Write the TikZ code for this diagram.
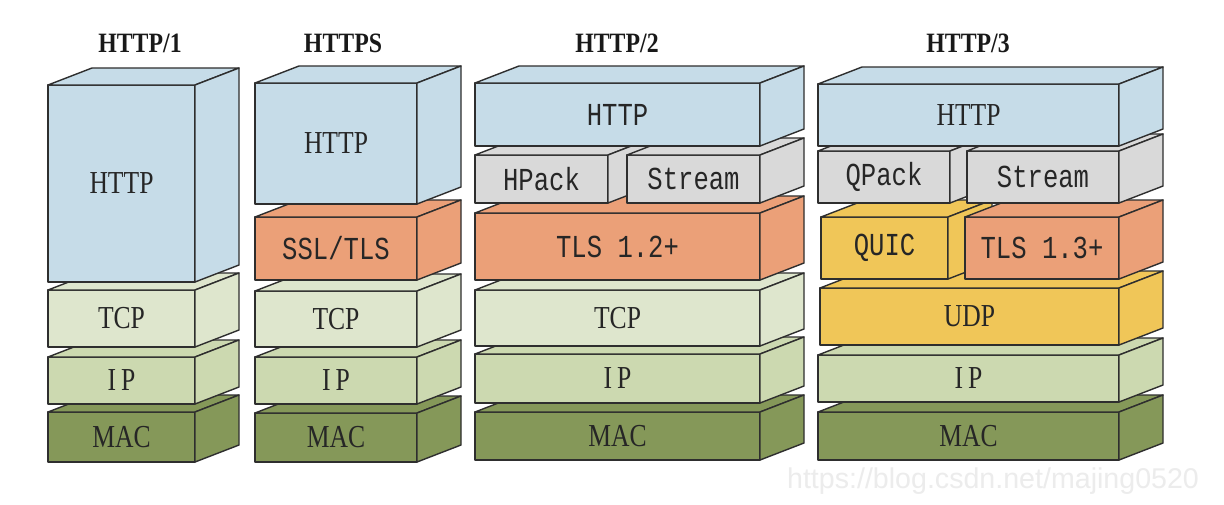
\documentclass[tikz,border=0pt]{standalone}
\usepackage{fontspec}
\setmainfont{Liberation Serif}
\newfontfamily\labfont[FakeStretch=0.8]{Liberation Serif}
\newfontfamily\mfont[FakeStretch=0.8]{Liberation Mono}
\newfontfamily\titfont[FakeStretch=0.85]{Liberation Serif}
\newfontfamily\wmfont{Liberation Sans}
\definecolor{cHttp}{HTML}{C6DCE8}
\definecolor{cTcp}{HTML}{DEE6CD}
\definecolor{cIp}{HTML}{CCD9B0}
\definecolor{cMac}{HTML}{859859}
\definecolor{cTls}{HTML}{EBA078}
\definecolor{cGray}{HTML}{D9D9D9}
\definecolor{cYel}{HTML}{F0C658}
\definecolor{cLine}{HTML}{2E2E2E}
\definecolor{cWm}{HTML}{ECECEC}
\tikzset{
  front/.style={draw=cLine, line width=0.7pt, line join=round, inner sep=0pt, outer sep=0pt, text=black!85},
  face/.style={draw=cLine, line width=0.7pt, line join=round},
  serl/.style={font=\labfont\fontsize{16}{16}\selectfont},
  monol/.style={font=\mfont\fontsize{16}{16}\selectfont},
  title/.style={font=\titfont\bfseries\fontsize{14}{14}\selectfont, text=black!90},
}
\newcommand\stackbox[8]{%
  \node[front, #8, fill=#6, minimum width={(#4-#2)*0.5pt}, minimum height={(#5-#3)*0.5pt}] (#1) at ({(#2+#4)/2},{(#3+#5)/2}) {#7};
  \draw[face, fill=#6] (#1.north west) -- ++(44,-17) -- ([shift={(44,-17)}]#1.north east) -- (#1.north east) -- cycle;
  \draw[face, fill=#6] (#1.north east) -- ++(44,-17) -- ([shift={(44,-17)}]#1.south east) -- (#1.south east) -- cycle;
}
\begin{document}
\begin{tikzpicture}[x=0.5pt,y=-0.5pt]
\useasboundingbox[fill=white] (0,0) rectangle (1224,504);
% titles
\node[title] (t1) at (140,43) {HTTP/1};
\node[title] (t2) at (343,43) {HTTPS};
\node[title] (t3) at (617,43) {HTTP/2};
\node[title] (t4) at (968,43) {HTTP/3};
% column 1
\stackbox{a4}{48}{412}{195}{462}{cMac}{MAC}{serl}
\stackbox{a3}{48}{357}{195}{404}{cIp}{I\kern2.5pt P}{serl}
\stackbox{a2}{48}{290}{195}{347}{cTcp}{TCP}{serl}
\stackbox{a1}{48}{85}{195}{282}{cHttp}{HTTP}{serl}
% column 2
\stackbox{b5}{255}{413}{417}{462}{cMac}{MAC}{serl}
\stackbox{b4}{255}{357}{417}{404}{cIp}{I\kern2.5pt P}{serl}
\stackbox{b3}{255}{291}{417}{347}{cTcp}{TCP}{serl}
\stackbox{b2}{255}{217}{417}{280}{cTls}{SSL/TLS}{monol}
\stackbox{b1}{255}{83}{417}{204}{cHttp}{HTTP}{serl}
% column 3
\stackbox{c6}{475}{412}{760}{460}{cMac}{MAC}{serl}
\stackbox{c5}{475}{354}{760}{403}{cIp}{I\kern2.5pt P}{serl}
\stackbox{c4}{475}{290}{760}{346}{cTcp}{TCP}{serl}
\stackbox{c3}{475}{213}{760}{280}{cTls}{TLS 1.2+}{monol}
\stackbox{c2a}{475}{155}{608}{203}{cGray}{HPack}{monol}
\stackbox{c2b}{627}{155}{760}{203}{cGray}{Stream}{monol}
\stackbox{c1}{475}{83}{760}{146}{cHttp}{HTTP}{monol}
% column 4
\stackbox{d6}{818}{412}{1119}{460}{cMac}{MAC}{serl}
\stackbox{d5}{818}{355}{1119}{402}{cIp}{I\kern2.5pt P}{serl}
\stackbox{d4}{820}{288}{1119}{345}{cYel}{UDP}{serl}
\stackbox{d3a}{821}{217}{948}{279}{cYel}{QUIC}{monol}
\stackbox{d3b}{965}{217}{1119}{279}{cTls}{TLS 1.3+}{monol}
\stackbox{d2a}{818}{151}{950}{203}{cGray}{QPack}{monol}
\stackbox{d2b}{967}{151}{1119}{203}{cGray}{Stream}{monol}
\stackbox{d1}{818}{84}{1119}{146}{cHttp}{HTTP}{serl}
% watermark
\node[anchor=base, text=cWm, font=\wmfont\fontsize{14.3}{14.3}\selectfont, inner sep=0pt] (wm) at (993,488) {https://blog.csdn.net/majing0520};
\end{tikzpicture}
\end{document}
